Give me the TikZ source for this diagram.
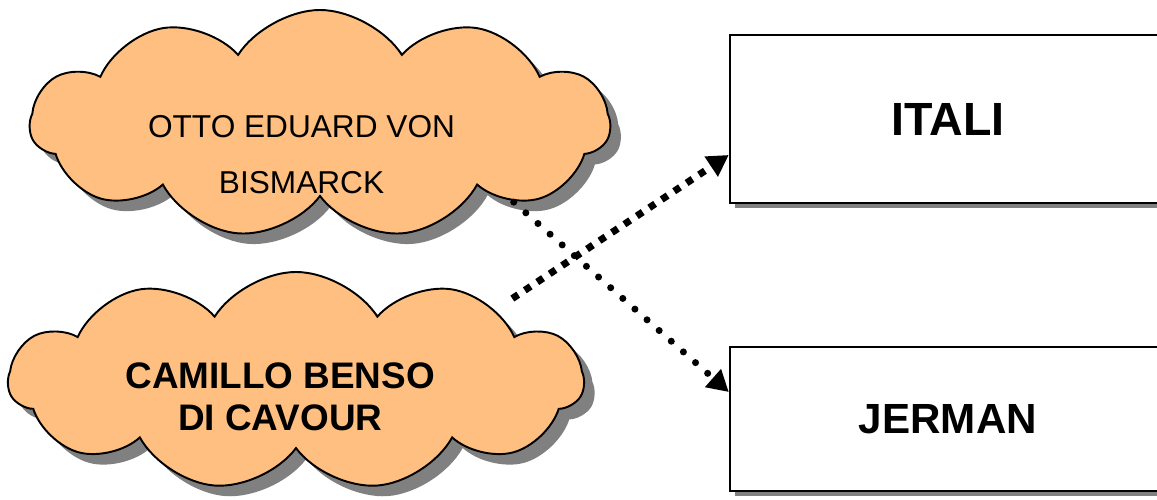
\documentclass[tikz,border=0pt]{standalone}
\usepackage{fontspec}
\setmainfont{Liberation Sans}
\usetikzlibrary{arrows.meta,shapes.symbols,shadows}

\definecolor{peach}{RGB}{255,191,128}

% name set low in its cloud without making the cloud grow
\newcommand{\lowname}[2]{\raisebox{-#1}[0pt][0pt]{\begin{tabular}{@{}c@{}}#2\end{tabular}}}

\begin{document}
\begin{tikzpicture}

\tikzstyle{figure} = [cloud, cloud puffs=11, cloud puff arc=115, cloud ignores aspect, draw=black, line width=1.1pt, fill=peach,
  drop shadow={shadow xshift=6pt, shadow yshift=-6pt, fill=gray, opacity=1}]
\tikzstyle{country} = [rectangle, minimum width=8.72cm, draw=black, line width=1.4pt, fill=white, font=\bfseries,
  drop shadow={shadow xshift=3pt, shadow yshift=-3pt, fill=gray, opacity=1}]
\tikzstyle{link} = [line width=4pt, -{Triangle[length=12pt,width=13pt]}]

\clip (0,0) rectangle (23.14,10);

\node[figure, minimum width=11.6cm, minimum height=4.56cm, font=\fontsize{18}{32}\selectfont] (bismarck) at (6.4, 7.52)
  {\lowname{21.5pt}{OTTO EDUARD VON\hspace*{21pt}\\BISMARCK\hspace*{21pt}}};
\node[figure, minimum width=11.5cm, minimum height=4.36cm, font=\fontsize{21}{24}\selectfont\bfseries] (cavour) at (5.92, 2.38)
  {\lowname{16.5pt}{CAMILLO BENSO\hspace*{18pt}\\DI CAVOUR\hspace*{18pt}}};

\node[country, minimum height=3.36cm, font=\fontsize{26.5}{30}\selectfont\bfseries] (itali) at (18.96, 7.62) {ITALI};
\node[country, minimum height=2.88cm, font=\fontsize{24}{28}\selectfont\bfseries] (jerman) at (18.96, 1.62) {JERMAN};

\draw[link, line cap=round, dash pattern=on 0pt off 9.2pt] ([xshift=-0.1cm]bismarck.south east) -- ([yshift=0.54cm]jerman.west);
\draw[link, dash pattern=on 4pt off 4.5pt] ([shift={(0.4,0.16)}]cavour.north east) -- ([yshift=-0.72cm]itali.west);

\end{tikzpicture}
\end{document}
